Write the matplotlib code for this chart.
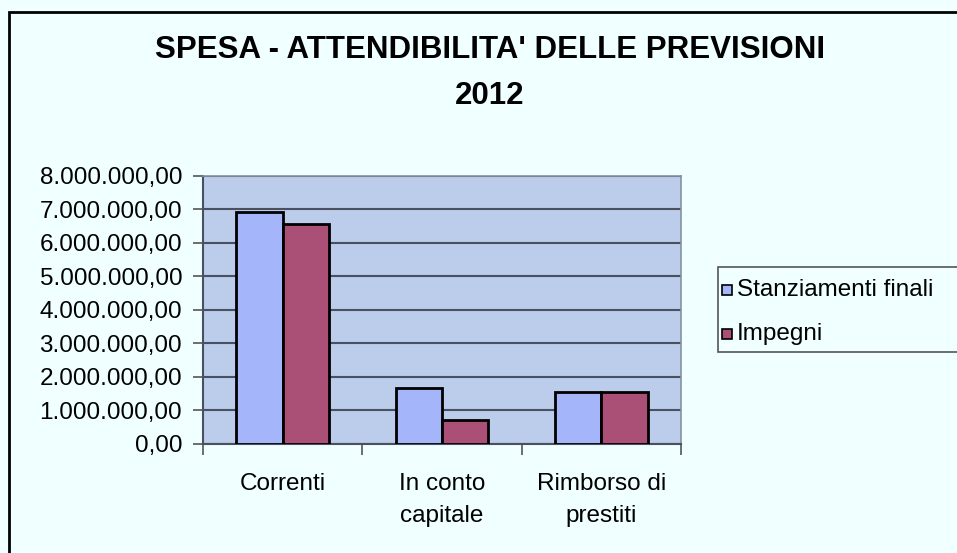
import matplotlib.pyplot as plt
import matplotlib.patches as mpatches
import numpy as np

plt.rcParams['font.family'] = ['Liberation Sans', 'DejaVu Sans']

categorie = ["Correnti", "In conto\ncapitale", "Rimborso di\nprestiti"]
stanziamenti = [6930000, 1670000, 1540000]
impegni = [6570000, 710000, 1540000]
serie = ["Stanziamenti finali", "Impegni"]

col_bg = "#f0ffff"
col_plot = "#bbcdeb"
col_st = "#a5b5fa"
col_imp = "#aa5076"
fs = 17.5


def fmt_it(v, pos=None):
    s = "{:,.2f}".format(v)
    return s.replace(",", "X").replace(".", ",").replace("X", ".")


fig = plt.figure(figsize=(9.57, 5.53), dpi=100, facecolor=col_bg)
# cornice esterna
fig.patches.append(mpatches.Rectangle((9/957, -0.01), 1.0, 1 - 12/553 + 0.01,
                                      transform=fig.transFigure, fill=False,
                                      edgecolor="black", linewidth=2))

ax = fig.add_axes([203/957, 1 - 443.7/553, 478/957, 268/553])
ax.set_facecolor(col_plot)

x = np.arange(len(categorie))
w = 0.29
ax.bar(x - w/2, stanziamenti, w, color=col_st, edgecolor="black", linewidth=2, label=serie[0], zorder=3)
ax.bar(x + w/2, impegni, w, color=col_imp, edgecolor="black", linewidth=2, label=serie[1], zorder=3)

ax.set_xlim(-0.5, 2.5)
ax.set_ylim(0, 8000000)
ax.set_yticks(np.arange(0, 8000001, 1000000))
ax.yaxis.set_major_formatter(plt.FuncFormatter(fmt_it))
ax.grid(axis="y", color="#4a5060", linewidth=1.5, zorder=1)

ax.set_xticks(x)
ax.set_xticklabels(categorie, fontsize=fs, linespacing=1.6)
ax.tick_params(axis="x", length=0, pad=21)
ax.set_xticks([-0.5, 0.5, 1.5, 2.5], minor=True)
ax.tick_params(axis="x", which="minor", length=8, width=1.2, color="#555555", direction="out")
ax.tick_params(axis="y", labelsize=fs, length=7, width=1.2, color="#555555", pad=8)

for s in ["top", "right"]:
    ax.spines[s].set_color("#8890a0")
    ax.spines[s].set_linewidth(1.2)
for s in ["left", "bottom"]:
    ax.spines[s].set_color("#4a5060")
    ax.spines[s].set_linewidth(1.5)

fig.text(490/957, 1 - 50/553, "SPESA - ATTENDIBILITA' DELLE PREVISIONI",
         ha="center", va="center", fontsize=22.5, fontweight="bold")
fig.text(490/957, 1 - 96/553, "2012", ha="center", va="center",
         fontsize=22.5, fontweight="bold")

# legenda
fig.patches.append(mpatches.Rectangle((718/957, 1 - 352/553), 0.3, 85/553,
                                      transform=fig.transFigure, facecolor=col_bg,
                                      edgecolor="#555555", linewidth=1.2))
for i, (nome, c) in enumerate(zip(serie, [col_st, col_imp])):
    yc = 1 - (290 + i * 44) / 553
    fig.patches.append(mpatches.Rectangle((722/957, yc - 5/553), 10/957, 10/553,
                                          transform=fig.transFigure, facecolor=c,
                                          edgecolor="black", linewidth=1.2))
    fig.text(737/957, yc, nome, ha="left", va="center", fontsize=fs)

fig.savefig("out.png", dpi=100, facecolor=col_bg)
